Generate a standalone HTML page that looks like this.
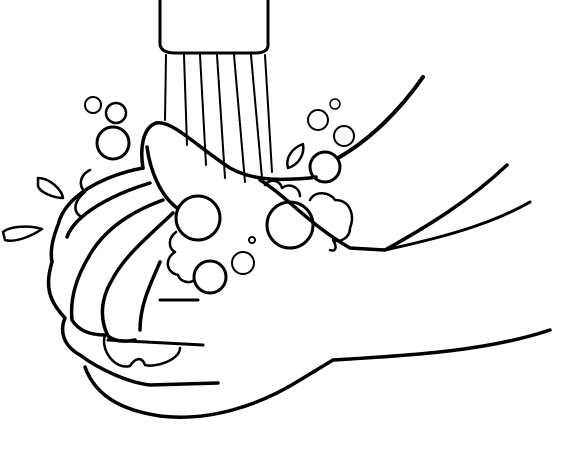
<!DOCTYPE html>
<html><head><meta charset="utf-8"><style>
html,body{margin:0;padding:0;background:#fff;width:564px;height:464px;overflow:hidden}
svg{display:block}
</style></head><body>
<svg width="564" height="464" viewBox="0 0 564 464" fill="none" stroke="#000" stroke-linecap="round" stroke-linejoin="round">
<g stroke-width="3">
<path d="M160,0 L160,45 Q162,53 175,53 L255,53 Q268,53 268,45 L268,0"/>
</g>
<g stroke-width="2">
<path d="M166,55 L165,120"/><path d="M184,55 L187,145"/><path d="M200,55 L206,165"/>
<path d="M217,55 L225,178"/><path d="M234,55 L245,182"/><path d="M251,55 L262,178"/><path d="M265,55 L272,172"/>
</g>
<g stroke-width="3.5">
<path d="M143,168 C140,150 142,128 156,123 C172,120 195,145 230,168 C255,182 285,180 310,178 L316,177"/>
<path d="M338,158 C370,140 400,110 423,77" stroke-width="4"/>
<path d="M147,147 C150,170 160,195 177,208"/>
<path d="M260,180 C285,195 310,225 350,248 L385,250 C430,225 470,200 507,165"/>
<path d="M385,250 C440,238 490,225 530,202" stroke-width="3"/>
<path d="M143,168 C105,175 65,195 58,225 C52,240 50,252 52,262"/>
<path d="M150,183 C110,195 75,215 67,237"/>
<path d="M163,200 C130,212 103,230 88,258 C75,280 70,300 72,320 C80,333 95,335 105,335"/>
<path d="M173,213 C150,235 125,255 112,280 C100,300 100,320 108,336 C115,342 125,342 135,340"/>
<path d="M160,262 C150,285 140,305 140,330"/>
<path d="M52,262 C45,285 48,300 65,318 C60,330 62,345 80,355 C100,370 130,383 150,385 L218,383"/>
<path d="M160,300 L198,300" stroke-width="3"/>
<path d="M108,340 L203,345" stroke-width="3"/>
<path d="M85,367 C95,395 120,410 160,416 C210,422 260,405 300,380 L333,360 C420,355 490,350 550,330"/>
</g>
<g stroke-width="3">
<circle cx="93" cy="105" r="8" stroke-width="2"/><circle cx="116" cy="113" r="10" stroke-width="2.5"/>
<circle cx="113" cy="143" r="16"/><circle cx="318" cy="120" r="10" stroke-width="2"/>
<circle cx="335" cy="104" r="5" stroke-width="1.5"/><circle cx="344" cy="136" r="10" stroke-width="2"/>
<circle cx="325" cy="167" r="15"/><circle cx="290" cy="225" r="23"/>
<circle cx="198" cy="218" r="22"/><circle cx="210" cy="277" r="16"/>
<circle cx="243" cy="263" r="11" stroke-width="2"/><circle cx="252" cy="240" r="3" stroke-width="2"/>
</g>
<g stroke-width="2.5">
<path d="M90,170 C80,175 78,185 85,192 C75,200 72,210 80,216"/>
<path d="M265,185 C270,178 280,180 282,188 C290,182 300,188 300,196"/>
<path d="M310,200 C315,190 330,192 335,200 C350,200 355,215 350,228 C350,238 340,243 333,240 C338,248 335,252 330,250"/>
<path d="M176,232 C168,238 168,248 175,252 C165,258 165,272 178,275 C180,282 190,284 194,280"/>
<path d="M105,335 C100,350 115,370 130,366 C135,358 142,356 145,365 C155,368 180,360 180,348"/>
</g>
<g stroke-width="2.5">
<path d="M38,178 C50,178 62,190 63,198 C55,198 40,193 38,186 Z"/>
<path d="M3,232 C10,226 30,225 42,229 C32,236 15,243 5,240 Z"/>
<path d="M288,168 C285,158 292,148 303,144 C305,155 298,165 288,168 Z"/>
</g>
</svg>
</body></html>
